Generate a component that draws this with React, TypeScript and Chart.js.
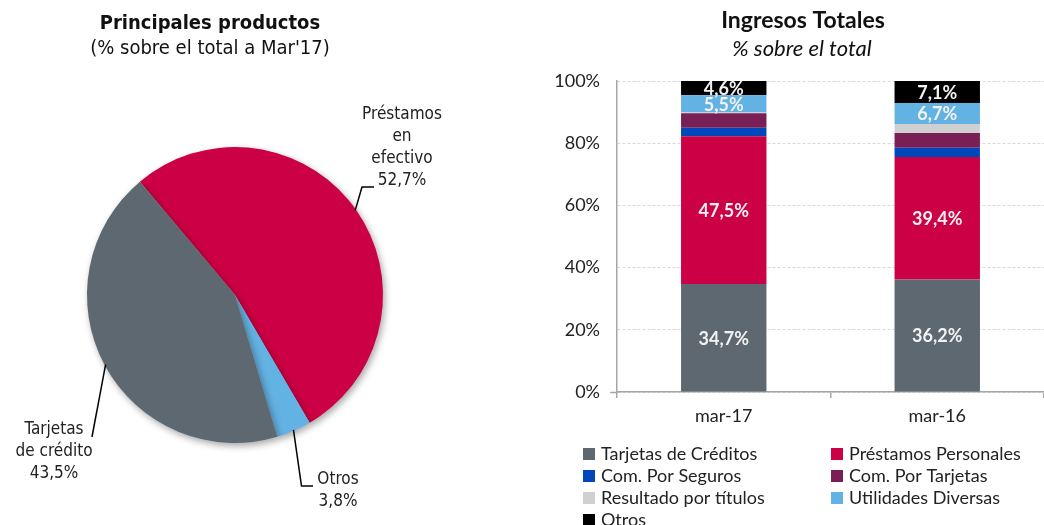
import React, { useEffect, useRef } from "react";
import { Chart, registerables } from "chart.js";

Chart.register(...registerables);

// ---------- Data ----------
const pieLabels = ["Préstamos en efectivo", "Otros", "Tarjetas de crédito"];
const pieValues = [52.7, 3.8, 43.5];
const pieColors = ["#CC0044", "#63B2E4", "#5E6870"];

const barCategories = ["mar-17", "mar-16"];
const seriesNames = [
  "Tarjetas de Créditos",
  "Préstamos Personales",
  "Com. Por Seguros",
  "Com. Por Tarjetas",
  "Resultado por títulos",
  "Utilidades Diversas",
  "Otros",
];
const tarjetasCredito = [34.7, 36.2];
const prestamosPersonales = [47.5, 39.4];
const comSeguros = [2.8, 2.9];
const comTarjetas = [4.6, 4.8];
const resultadoTitulos = [0.3, 2.9];
const utilidadesDiversas = [5.5, 6.7];
const otros = [4.6, 7.1];
const seriesData = [
  tarjetasCredito,
  prestamosPersonales,
  comSeguros,
  comTarjetas,
  resultadoTitulos,
  utilidadesDiversas,
  otros,
];
const seriesColors = ["#5E6870", "#CC0044", "#0047BB", "#7A1F56", "#D0D0D0", "#63B2E4", "#000000"];
const labeledSeries = [true, true, false, false, false, true, true];

const fmtPct = (v: number) => v.toFixed(1).replace(".", ",") + "%";

const LEFT_FONT = "'DejaVu Sans Condensed', 'DejaVu Sans', sans-serif";
const RIGHT_FONT = "Lato, 'Open Sans', sans-serif";

// ---------- Pie label layout (positions only) ----------
const pieLabelLayout = [
  { lines: ["Préstamos", "en", "efectivo"], x: 402, y: 115, pts: [[362, 187], [374, 187]] },
  { lines: ["Otros"], x: 338, y: 480, pts: [[301.5, 486], [313, 486]] },
  { lines: ["Tarjetas", "de crédito"], x: 54, y: 430, pts: [[92, 437]] },
];

const pieTitlePlugin = {
  id: "pieTitle",
  afterDraw(chart: any) {
    const ctx = chart.ctx;
    ctx.save();
    ctx.fillStyle = "#111";
    ctx.textAlign = "center";
    ctx.textBaseline = "middle";
    ctx.font = `bold 20px ${LEFT_FONT}`;
    ctx.fillText("Principales productos", 210, 24);
    ctx.font = `20px ${LEFT_FONT}`;
    ctx.fillText("(% sobre el total a Mar'17)", 210, 49);
    ctx.restore();
  },
};

const pieShadowPlugin = {
  id: "pieShadow",
  beforeDatasetsDraw(chart: any) {
    const ctx = chart.ctx;
    ctx.save();
    ctx.shadowColor = "rgba(0,0,0,0.35)";
    ctx.shadowBlur = 7;
    ctx.shadowOffsetX = 2;
    ctx.shadowOffsetY = 3;
  },
  afterDatasetsDraw(chart: any) {
    chart.ctx.restore();
  },
};

const pieLabelPlugin = {
  id: "pieLabels",
  afterDatasetsDraw(chart: any) {
    const ctx = chart.ctx;
    const meta = chart.getDatasetMeta(0);
    const values = chart.data.datasets[0].data as number[];
    ctx.save();
    meta.data.forEach((arc: any, i: number) => {
      const p = arc.getProps(["x", "y", "startAngle", "endAngle", "outerRadius"], true);
      const mid = (p.startAngle + p.endAngle) / 2;
      const ax = p.x + Math.cos(mid) * (p.outerRadius - 1);
      const ay = p.y + Math.sin(mid) * (p.outerRadius - 1);
      const lay = pieLabelLayout[i];
      ctx.strokeStyle = "#000";
      ctx.lineWidth = 1.5;
      ctx.beginPath();
      ctx.moveTo(ax, ay);
      lay.pts.forEach((pt) => ctx.lineTo(pt[0], pt[1]));
      ctx.stroke();
      ctx.fillStyle = "#222";
      ctx.font = `17px ${LEFT_FONT}`;
      ctx.textAlign = "center";
      ctx.textBaseline = "middle";
      const lines = [...lay.lines, fmtPct(values[i])];
      lines.forEach((t, k) => ctx.fillText(t, lay.x, lay.y + k * 22));
    });
    ctx.restore();
  },
};

const barTitlePlugin = {
  id: "barTitle",
  afterDraw(chart: any) {
    const ctx = chart.ctx;
    ctx.save();
    ctx.fillStyle = "#111";
    ctx.textAlign = "center";
    ctx.textBaseline = "middle";
    ctx.font = `bold 23px ${RIGHT_FONT}`;
    ctx.fillText("Ingresos Totales", 283, 21);
    ctx.font = `italic 22px ${RIGHT_FONT}`;
    ctx.fillText("% sobre el total", 282, 49);
    ctx.restore();
  },
};

const barValuePlugin = {
  id: "barValues",
  afterDatasetsDraw(chart: any) {
    const ctx = chart.ctx;
    ctx.save();
    ctx.fillStyle = "#F2F2F2";
    ctx.font = `bold 18px ${RIGHT_FONT}`;
    ctx.textAlign = "center";
    ctx.textBaseline = "middle";
    chart.data.datasets.forEach((ds: any, i: number) => {
      if (!labeledSeries[i]) return;
      const meta = chart.getDatasetMeta(i);
      meta.data.forEach((bar: any, j: number) => {
        const p = bar.getProps(["x", "y", "base"], true);
        ctx.fillText(fmtPct(ds.data[j]), p.x, (p.y + p.base) / 2 + 1);
      });
    });
    ctx.restore();
  },
};

const barLegendPlugin = {
  id: "barLegend",
  afterDraw(chart: any) {
    const ctx = chart.ctx;
    ctx.save();
    ctx.font = `18px ${RIGHT_FONT}`;
    ctx.textBaseline = "middle";
    ctx.textAlign = "left";
    const cols = [63, 311];
    chart.data.datasets.forEach((ds: any, i: number) => {
      const col = i % 2;
      const row = Math.floor(i / 2);
      const x = cols[col];
      const y = 454 + row * 22;
      ctx.fillStyle = ds.backgroundColor;
      ctx.fillRect(x, y - 6, 12, 12);
      ctx.fillStyle = "#222";
      ctx.fillText(ds.label, x + 18, y);
    });
    ctx.restore();
  },
};

function PieChart() {
  const ref = useRef<HTMLCanvasElement>(null);
  useEffect(() => {
    if (!ref.current) return;
    const chart = new Chart(ref.current, {
      type: "pie",
      data: {
        labels: pieLabels,
        datasets: [{ data: pieValues, backgroundColor: pieColors, borderWidth: 0 }],
      },
      options: {
        responsive: false,
        animation: false,
        rotation: -40,
        layout: { padding: { left: 87, right: 137, top: 147, bottom: 82 } },
        plugins: { legend: { display: false }, tooltip: { enabled: false } },
      },
      plugins: [pieShadowPlugin, pieLabelPlugin, pieTitlePlugin],
    });
    return () => chart.destroy();
  }, []);
  return <canvas ref={ref} width={520} height={525} />;
}

function BarChart() {
  const ref = useRef<HTMLCanvasElement>(null);
  useEffect(() => {
    if (!ref.current) return;
    const chart = new Chart(ref.current, {
      type: "bar",
      data: {
        labels: barCategories,
        datasets: seriesNames.map((name, i) => ({
          label: name,
          data: seriesData[i],
          backgroundColor: seriesColors[i],
          borderWidth: 0,
          barPercentage: 0.4,
          categoryPercentage: 1,
        })),
      },
      options: {
        responsive: false,
        animation: false,
        layout: { padding: { left: 0, right: 0, top: 81, bottom: 93 } },
        plugins: { legend: { display: false }, tooltip: { enabled: false } },
        scales: {
          x: {
            stacked: true,
            grid: { offset: true, drawOnChartArea: false, tickLength: 6, color: "#A6A6A6", lineWidth: 1.5 },
            border: { color: "#A6A6A6", width: 1.5 },
            ticks: { font: { family: RIGHT_FONT, size: 18 }, color: "#222", padding: 7 },
            afterFit: (s: any) => {
              s.height = 40;
            },
          },
          y: {
            stacked: true,
            min: 0,
            max: 100,
            ticks: {
              stepSize: 20,
              callback: (v: any) => v + "%",
              font: { family: RIGHT_FONT, size: 18 },
              color: "#222",
              padding: 10,
            },
            grid: {
              color: "#D9D9D9",
              tickLength: 7,
              tickColor: (c: any) => (c.tick && c.tick.value === 0 ? "#A6A6A6" : "rgba(0,0,0,0)"),
              tickWidth: 1.5,
            },
            border: { color: "#A6A6A6", width: 1.5, dash: [3, 2] },
            afterFit: (s: any) => {
              s.width = 97;
            },
          },
        },
      },
      plugins: [barValuePlugin, barLegendPlugin, barTitlePlugin],
    });
    return () => chart.destroy();
  }, []);
  return <canvas ref={ref} width={524} height={525} />;
}

export default function App() {
  return (
    <div
      style={{
        position: "fixed",
        left: 0,
        top: 0,
        width: 1044,
        height: 525,
        background: "#fff",
        overflow: "hidden",
      }}
    >
      <div style={{ position: "absolute", left: 0, top: 0 }}>
        <PieChart />
      </div>
      <div style={{ position: "absolute", left: 520, top: 0 }}>
        <BarChart />
      </div>
    </div>
  );
}
